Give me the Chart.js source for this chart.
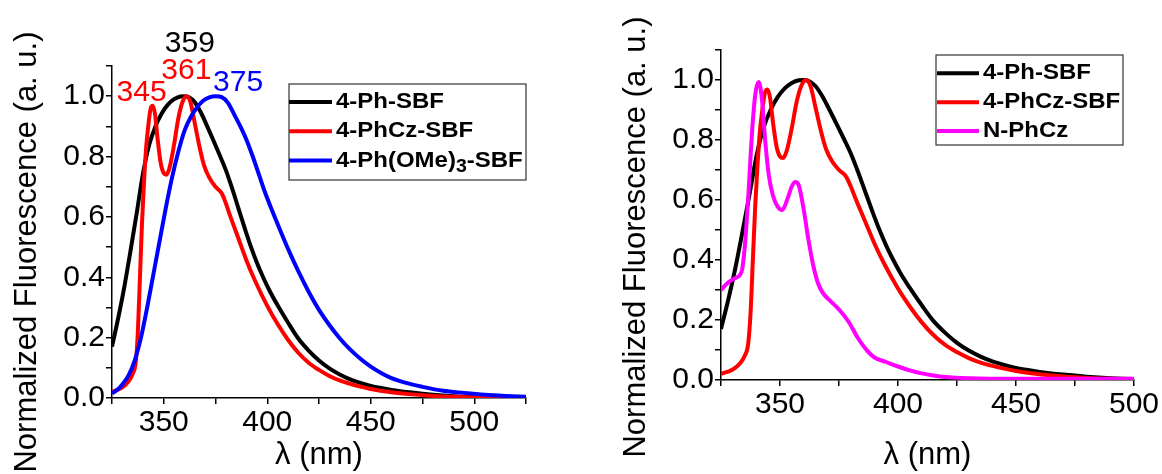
<!DOCTYPE html>
<html>
<head>
<meta charset="utf-8">
<script src="https://cdn.jsdelivr.net/npm/chart.js@4.4.1/dist/chart.umd.min.js"></script>
<style>
  html, body { margin: 0; padding: 0; background: #fff; overflow: hidden; }
  .box { position: absolute; top: 0; height: 474px; }
  #left { left: 0; width: 560px; }
  #right { left: 560px; width: 602px; }
</style>
</head>
<body>
<div class="box" id="left"><canvas id="c1"></canvas></div>
<div class="box" id="right"><canvas id="c2"></canvas></div>
<script>
// spectra (wavelength in nm, normalized intensity)
const phSbfNm = [325,328,331,334,337,340,343,346,349,352,355,358,360,362,365,368,371,374,377,380,383,386,389,392,395,398,401,405,410,415,420,425,430,435,440,445,450,460,470,480,490,500,525];
const phSbfI = [0.17,0.265,0.37,0.49,0.615,0.745,0.84,0.9,0.943,0.972,0.99,0.999,1.0,0.997,0.98,0.945,0.9,0.853,0.805,0.755,0.695,0.63,0.565,0.503,0.448,0.4,0.357,0.307,0.25,0.197,0.157,0.124,0.098,0.078,0.062,0.05,0.04,0.027,0.018,0.011,0.006,0.003,0.001];

const phczSbfNm = [325,330,333,335,336.5,337.5,338.5,339.5,340.5,341.5,342.5,343.7,344.7,345.8,347,348.5,350,351.3,352.8,355,357,359,361,363,365,367.5,369.5,372,375,378,380,382,386,390,394,400,405,410,415,420,425,430,435,440,445,450,460,470,480,490,500,525];
const phczSbfI = [0.02,0.035,0.055,0.08,0.12,0.22,0.4,0.58,0.72,0.83,0.9,0.96,0.968,0.94,0.86,0.78,0.745,0.74,0.763,0.84,0.925,0.98,1.0,0.978,0.91,0.825,0.77,0.73,0.7,0.678,0.645,0.605,0.53,0.455,0.39,0.305,0.245,0.193,0.15,0.117,0.093,0.073,0.058,0.047,0.038,0.03,0.019,0.012,0.007,0.004,0.002,0.001];

const phOMeSbfNm = [325,328,330,333,336,339,342,345,348,351,354,357,360,363,366,369,372,375,378,381,384,387,390,393,396,399,402,406,410,415,420,425,430,435,440,445,450,455,460,467,475,485,495,505,515,525];
const phOMeSbfI = [0.015,0.03,0.045,0.075,0.125,0.2,0.3,0.41,0.52,0.63,0.73,0.815,0.885,0.93,0.962,0.985,0.996,1.0,0.997,0.978,0.94,0.9,0.855,0.8,0.74,0.68,0.627,0.56,0.495,0.42,0.352,0.292,0.242,0.198,0.161,0.13,0.104,0.083,0.066,0.05,0.037,0.024,0.017,0.011,0.007,0.004];

const nPhczNm = [325,328,331,333,334,335.3,336.7,338.1,339.5,340.9,342.3,343.7,345.2,347,349,351,353,355,356.5,358,360,362,364,366,368,371,375,379,383,387,390,395,400,405,410,415,420,430,450,500];
const nPhczI = [0.3,0.325,0.34,0.35,0.37,0.465,0.63,0.82,0.95,0.993,0.94,0.8,0.686,0.615,0.578,0.567,0.6,0.645,0.66,0.648,0.57,0.47,0.385,0.325,0.292,0.266,0.235,0.195,0.14,0.097,0.075,0.06,0.045,0.032,0.022,0.015,0.01,0.006,0.004,0.004];

const xTickLabels = [350, 400, 450, 500];
const yTickLabels = ['0.0', '0.2', '0.4', '0.6', '0.8', '1.0'];
const peakLabels = ['359', '361', '345', '375'];

const FONT = '"Liberation Sans", Arial, sans-serif';

function pts(xs, ys) {
  return xs.map((x, i) => ({ x: x, y: ys[i] }));
}

function series(label, xs, ys, color, order) {
  return {
    label: label,
    data: pts(xs, ys),
    borderColor: color,
    backgroundColor: color,
    borderWidth: 4,
    pointRadius: 0,
    cubicInterpolationMode: 'monotone',
    order: order
  };
}

// draws a bold label, turning unicode subscript digits into real subscripts
function drawLabel(ctx, text, x, y, size, stretch) {
  ctx.save();
  ctx.translate(x, y);
  ctx.scale(stretch, 1);
  let cx = 0;
  for (const ch of text) {
    const code = ch.charCodeAt(0);
    if (code >= 0x2080 && code <= 0x2089) {
      ctx.font = 'bold ' + Math.round(size * 0.8) + 'px ' + FONT;
      const d = String.fromCharCode(code - 0x2080 + 48);
      ctx.fillText(d, cx, size * 0.3);
      cx += ctx.measureText(d).width;
    } else {
      ctx.font = 'bold ' + size + 'px ' + FONT;
      ctx.fillText(ch, cx, 0);
      cx += ctx.measureText(ch).width;
    }
  }
  ctx.restore();
}

const extras = {
  id: 'extras',
  afterDraw(chart, args, opts) {
    const ctx = chart.ctx;
    ctx.save();
    ctx.fillStyle = '#000';

    // rotated y title
    const t = opts.yTitle;
    ctx.save();
    ctx.translate(t.x, t.y);
    ctx.rotate(-Math.PI / 2);
    ctx.font = '31px ' + FONT;
    ctx.textAlign = 'center';
    ctx.textBaseline = 'middle';
    ctx.fillText(t.text, 0, 0);
    ctx.restore();

    // framed legend
    const lg = opts.legend;
    ctx.strokeStyle = '#333';
    ctx.lineWidth = 1.2;
    ctx.strokeRect(lg.box[0], lg.box[1], lg.box[2], lg.box[3]);
    ctx.textAlign = 'left';
    ctx.textBaseline = 'middle';
    chart.data.datasets.forEach((ds, i) => {
      const y = lg.row0 + i * lg.rowGap;
      ctx.strokeStyle = ds.borderColor;
      ctx.lineWidth = 4;
      ctx.beginPath();
      ctx.moveTo(lg.line[0], y);
      ctx.lineTo(lg.line[1], y);
      ctx.stroke();
      ctx.fillStyle = '#000';
      drawLabel(ctx, ds.label, lg.textX, y, 22, 1.09);
    });

    // peak labels
    const xs = chart.scales.x, ys = chart.scales.y;
    ctx.font = '30px ' + FONT;
    ctx.textAlign = 'center';
    ctx.textBaseline = 'middle';
    (opts.notes || []).forEach(n => {
      ctx.fillStyle = n.color;
      ctx.fillText(n.text, xs.getPixelForValue(n.at[0]), ys.getPixelForValue(n.at[1]));
    });
    ctx.restore();
  }
};

function makeOptions(xMax, yWidth, xHeight, padding, extraOpts) {
  const tickFont = { family: FONT, size: 30 };
  return {
    responsive: true,
    maintainAspectRatio: false,
    devicePixelRatio: 1,
    animation: false,
    layout: { padding: padding },
    plugins: {
      legend: { display: false },
      tooltip: { enabled: false },
      extras: extraOpts
    },
    scales: {
      x: {
        type: 'linear',
        min: 325,
        max: xMax,
        afterFit(s) { s.height = xHeight; },
        ticks: {
          stepSize: 25,
          autoSkip: false,
          maxRotation: 0,
          padding: 1,
          color: '#000',
          font: tickFont,
          callback: v => xTickLabels.includes(v) ? String(v) : ''
        },
        grid: { drawOnChartArea: false, drawTicks: true, tickLength: 6, color: '#000', lineWidth: 1.5 },
        border: { display: true, color: '#000', width: 1.5 },
        title: { display: true, text: 'λ (nm)', color: '#000', font: { family: FONT, size: 31 }, padding: 0 }
      },
      y: {
        type: 'linear',
        min: 0,
        max: 1.1,
        afterFit(s) { s.width = yWidth; },
        ticks: {
          stepSize: 0.1,
          autoSkip: false,
          padding: 1,
          color: '#000',
          font: tickFont,
          callback: v => {
            const s = v.toFixed(1);
            return yTickLabels.includes(s) ? s : '';
          }
        },
        grid: { drawOnChartArea: false, drawTicks: true, tickLength: 6, color: '#000', lineWidth: 1.5 },
        border: { display: true, color: '#000', width: 1.5 }
      }
    }
  };
}

const yTitle = 'Normalized Fluorescence (a. u.)';

new Chart(document.getElementById('c1'), {
  type: 'line',
  data: {
    datasets: [
      series('4-Ph-SBF', phSbfNm, phSbfI, '#000000', 3),
      series('4-PhCz-SBF', phczSbfNm, phczSbfI, '#ff0000', 2),
      series('4-Ph(OMe)₃-SBF', phOMeSbfNm, phOMeSbfI, '#0000ff', 1)
    ]
  },
  options: makeOptions(525, 112, 76, { left: 0, right: 34, top: 66, bottom: 0 }, {
    yTitle: { text: yTitle, x: 27, y: 252 },
    legend: { box: [289, 84, 237, 96], row0: 102, rowGap: 29.3, line: [289, 332], textX: 336 },
    notes: [
      { text: peakLabels[0], at: [362.6, 1.175], color: '#000000' },
      { text: peakLabels[1], at: [360.9, 1.083], color: '#ff0000' },
      { text: peakLabels[2], at: [339.3, 1.013], color: '#ff0000' },
      { text: peakLabels[3], at: [385.9, 1.046], color: '#0000ff' }
    ]
  }),
  plugins: [extras]
});

new Chart(document.getElementById('c2'), {
  type: 'line',
  data: {
    datasets: [
      series('4-Ph-SBF', phSbfNm, phSbfI, '#000000', 3),
      series('4-PhCz-SBF', phczSbfNm, phczSbfI, '#ff0000', 2),
      series('N-PhCz', nPhczNm, nPhczI, '#ff00ff', 1)
    ]
  },
  options: makeOptions(500, 161, 94, { left: 0, right: 28, top: 50, bottom: 0 }, {
    yTitle: { text: yTitle, x: 76, y: 237 },
    legend: { box: [376, 55, 187, 90], row0: 73.3, rowGap: 28.9, line: [377, 419], textX: 423 }
  }),
  plugins: [extras]
});
</script>
</body>
</html>
